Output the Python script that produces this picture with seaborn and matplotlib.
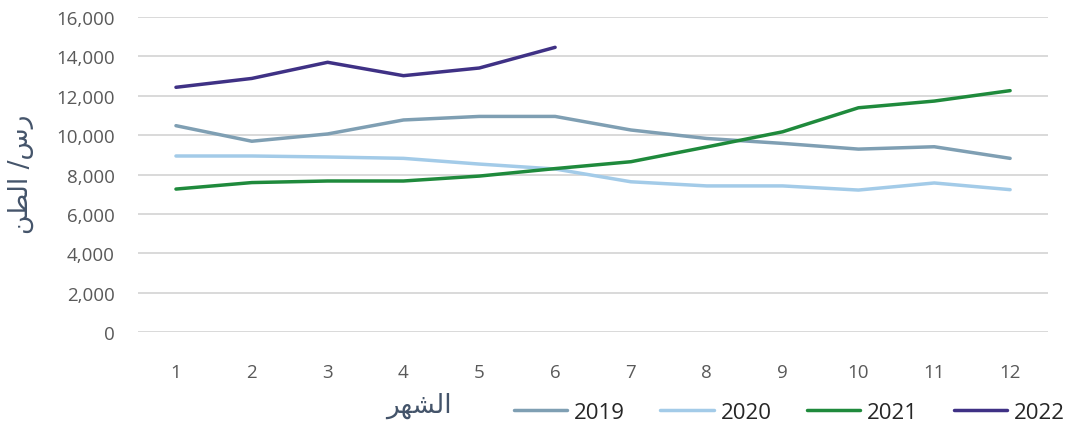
import pandas as pd
import numpy as np
import seaborn as sns
import matplotlib.pyplot as plt

# monthly price (SAR / ton)
months = list(range(1, 13))
y2019 = [10480, 9690, 10060, 10770, 10950, 10950, 10260, 9830, 9580, 9290, 9410, 8820]
y2020 = [8940, 8940, 8890, 8820, 8530, 8280, 7630, 7420, 7420, 7210, 7570, 7230]
y2021 = [7260, 7590, 7670, 7670, 7920, 8300, 8650, 9400, 10170, 11390, 11730, 12260]
y2022 = [12430, 12880, 13700, 13020, 13410, 14460]
years = ['2019', '2020', '2021', '2022']
yticks = [0, 2000, 4000, 6000, 8000, 10000, 12000, 14000, 16000]

# Arabic labels, pre-shaped (presentation forms, visual order) since matplotlib does no shaping
ylab = '\uFEE6\uFEC4\uFEDF\uFE8D /\uFEB1\uFEAD'   # رس/ الطن
xlab = '\uFEAE\uFEEC\uFEB8\uFEDF\uFE8D'           # الشهر

colors = {'2019': '#7f9fb3', '2020': '#a3cbe8', '2021': '#1f8a3c', '2022': '#3f3185'}

rows = []
for yr, vals in zip(years, [y2019, y2020, y2021, y2022]):
    for m, v in zip(months, vals):
        rows.append({'month': m, 'price': v, 'year': yr})
df = pd.DataFrame(rows)

sns.set_style('white')
plt.rcParams['font.family'] = ['Open Sans', 'DejaVu Sans']

fig = plt.figure(figsize=(10.76, 4.31), dpi=100)
ax = fig.add_axes([0.1283, 0.2274, 0.8457, 0.7308])

sns.lineplot(data=df, x='month', y='price', hue='year', palette=colors,
             linewidth=2.5, ax=ax, legend=False)

ax.set_xlim(0.5, 12.5)
ax.set_ylim(0, 16000)
ax.set_xticks(months)
ax.set_yticks(yticks)
ax.set_yticklabels(['{:,}'.format(v) for v in yticks])
ax.yaxis.grid(True, color='#d9d9d9', linewidth=1.4)
ax.set_axisbelow(True)
for s in ax.spines.values():
    s.set_visible(False)
ax.tick_params(axis='both', length=0, labelsize=13.5, colors='#595959')
ax.tick_params(axis='x', pad=22)
ax.tick_params(axis='y', pad=17)
ax.set_xlabel('')
ax.set_ylabel('')

fig.text(0.019, 0.596, ylab, rotation=90, ha='center', va='center',
         fontsize=19, color='#44546a', family='DejaVu Sans')
fig.text(0.389, 0.058, xlab, ha='center', va='center',
         fontsize=19, color='#44546a', family='DejaVu Sans')

handles = [plt.Line2D([], [], color=colors[y], linewidth=2.5) for y in years]
fig.legend(handles, years, loc='center right', bbox_to_anchor=(1.008, 0.04), ncol=4,
           frameon=False, handlelength=2.4, handletextpad=0.3,
           columnspacing=1.6, labelcolor='#262626',
           prop={'family': 'Open Sans', 'size': 16})

fig.savefig('out.png', dpi=100)
